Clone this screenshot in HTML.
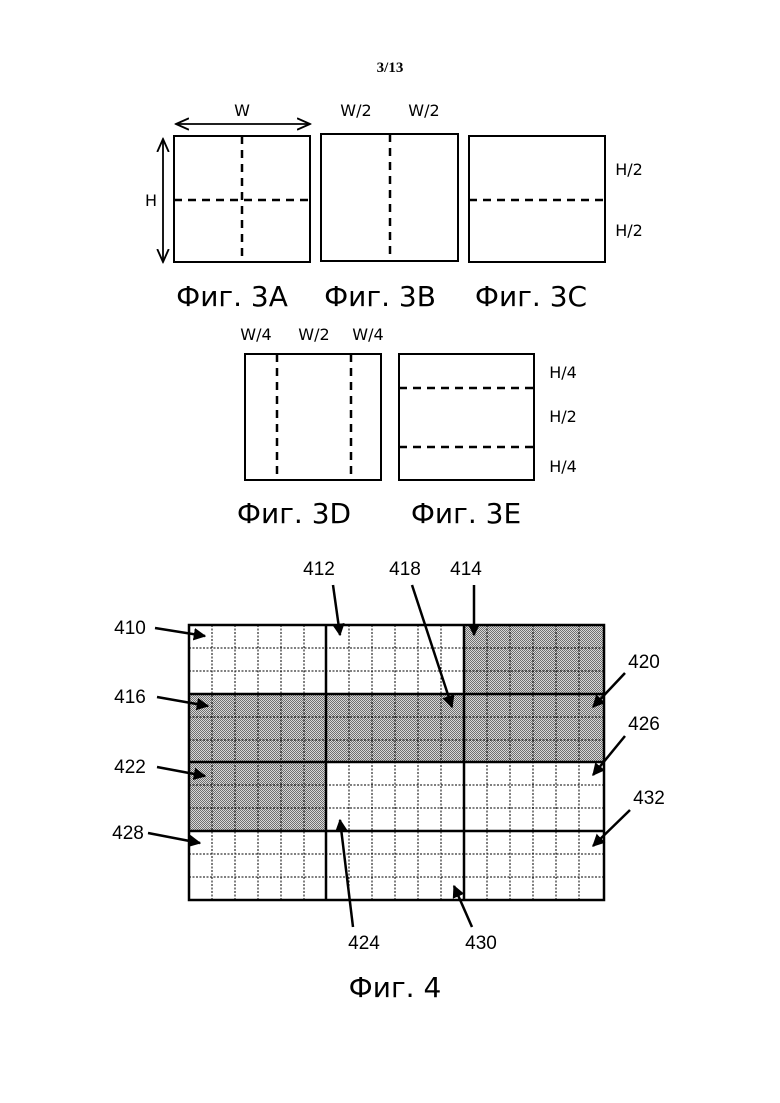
<!DOCTYPE html>
<html><head><meta charset="utf-8"><style>
body{margin:0;background:#fff;}
svg{display:block;font-family:"Liberation Sans","DejaVu Sans",sans-serif;}
</style></head><body>
<svg width="780" height="1103" viewBox="0 0 780 1103" xmlns="http://www.w3.org/2000/svg">
<defs>
<pattern id="chk" width="2" height="2" patternUnits="userSpaceOnUse">
<rect width="2" height="2" fill="#d8d8d8"/><rect width="1" height="1" fill="#707070"/><rect x="1" y="1" width="1" height="1" fill="#707070"/>
</pattern>
<marker id="ah" viewBox="0 0 10 10" refX="9" refY="5" markerWidth="5" markerHeight="5" orient="auto"><path d="M0,0 L10,5 L0,10 z" fill="#000"/></marker>
<marker id="oa" viewBox="0 0 10 10" refX="9" refY="5" markerWidth="8" markerHeight="8" orient="auto-start-reverse"><path d="M0,1 L9,5 L0,9" fill="none" stroke="#000" stroke-width="1.3"/></marker>
</defs>
<text x="390" y="72" font-family="Liberation Serif,serif" font-weight="bold" font-size="15" text-anchor="middle">3/13</text>

<g fill="none" stroke="#000" stroke-width="2">
<rect x="174" y="136" width="136" height="126"/>
<rect x="321" y="134" width="137" height="127"/>
<rect x="469" y="136" width="136" height="126"/>
<rect x="245" y="354" width="136" height="126"/>
<rect x="399" y="354" width="135" height="126"/>
</g>
<g fill="none" stroke="#000" stroke-width="2.5" stroke-dasharray="8,6">
<line x1="242" y1="136" x2="242" y2="262"/>
<line x1="174" y1="200" x2="310" y2="200"/>
<line x1="390" y1="134" x2="390" y2="255"/>
<line x1="469" y1="200" x2="605" y2="200"/>
<line x1="277" y1="354" x2="277" y2="476"/>
<line x1="351" y1="354" x2="351" y2="476"/>
<line x1="399" y1="388" x2="534" y2="388"/>
<line x1="399" y1="447" x2="534" y2="447"/>
</g>
<line x1="176" y1="124" x2="310" y2="124" stroke="#000" stroke-width="1.8" marker-start="url(#oa)" marker-end="url(#oa)"/>
<line x1="163" y1="139" x2="163" y2="262" stroke="#000" stroke-width="1.8" marker-start="url(#oa)" marker-end="url(#oa)"/>
<g font-size="16" font-family="DejaVu Sans,sans-serif">
<text x="242" y="116" text-anchor="middle">W</text>
<text x="151" y="206" text-anchor="middle">H</text>
<text x="356" y="116" text-anchor="middle">W/2</text>
<text x="424" y="116" text-anchor="middle">W/2</text>
<text x="629" y="175" text-anchor="middle">H/2</text>
<text x="629" y="236" text-anchor="middle">H/2</text>
<text x="256" y="340" text-anchor="middle">W/4</text>
<text x="314" y="340" text-anchor="middle">W/2</text>
<text x="368" y="340" text-anchor="middle">W/4</text>
<text x="563" y="378" text-anchor="middle">H/4</text>
<text x="563" y="422" text-anchor="middle">H/2</text>
<text x="563" y="472" text-anchor="middle">H/4</text>
</g>
<g font-size="28" font-family="DejaVu Sans,sans-serif">
<text x="232" y="306" text-anchor="middle">Фиг. 3A</text>
<text x="380" y="306" text-anchor="middle">Фиг. 3B</text>
<text x="531" y="306" text-anchor="middle">Фиг. 3C</text>
<text x="294" y="523" text-anchor="middle">Фиг. 3D</text>
<text x="466" y="523" text-anchor="middle">Фиг. 3E</text>
<text x="395" y="997" text-anchor="middle">Фиг. 4</text>
</g>

<!-- grid -->
<rect x="464" y="625" width="140" height="69" fill="url(#chk)"/>
<rect x="189" y="694" width="415" height="68" fill="url(#chk)"/>
<rect x="189" y="762" width="137" height="69" fill="url(#chk)"/>
<g stroke="#000" stroke-width="1" stroke-dasharray="2,1.5">
<line x1="212" y1="625" x2="212" y2="900"/><line x1="235" y1="625" x2="235" y2="900"/><line x1="258" y1="625" x2="258" y2="900"/><line x1="281" y1="625" x2="281" y2="900"/><line x1="304" y1="625" x2="304" y2="900"/>
<line x1="349" y1="625" x2="349" y2="900"/><line x1="372" y1="625" x2="372" y2="900"/><line x1="395" y1="625" x2="395" y2="900"/><line x1="418" y1="625" x2="418" y2="900"/><line x1="441" y1="625" x2="441" y2="900"/>
<line x1="487" y1="625" x2="487" y2="900"/><line x1="510" y1="625" x2="510" y2="900"/><line x1="533" y1="625" x2="533" y2="900"/><line x1="556" y1="625" x2="556" y2="900"/><line x1="579" y1="625" x2="579" y2="900"/>
<line x1="189" y1="648" x2="604" y2="648"/><line x1="189" y1="671" x2="604" y2="671"/>
<line x1="189" y1="717" x2="604" y2="717"/><line x1="189" y1="740" x2="604" y2="740"/>
<line x1="189" y1="785" x2="604" y2="785"/><line x1="189" y1="808" x2="604" y2="808"/>
<line x1="189" y1="854" x2="604" y2="854"/><line x1="189" y1="877" x2="604" y2="877"/>
</g>
<g stroke="#000" stroke-width="2.5" fill="none">
<rect x="189" y="625" width="415" height="275"/>
<line x1="326" y1="625" x2="326" y2="900"/><line x1="464" y1="625" x2="464" y2="900"/>
<line x1="189" y1="694" x2="604" y2="694"/><line x1="189" y1="762" x2="604" y2="762"/><line x1="189" y1="831" x2="604" y2="831"/>
</g>
<!-- labels and arrows -->
<g font-size="19" font-family="Liberation Sans,Arial,sans-serif">
<text x="130" y="634" text-anchor="middle">410</text>
<text x="319" y="575" text-anchor="middle">412</text>
<text x="405" y="575" text-anchor="middle">418</text>
<text x="466" y="575" text-anchor="middle">414</text>
<text x="644" y="668" text-anchor="middle">420</text>
<text x="130" y="703" text-anchor="middle">416</text>
<text x="644" y="730" text-anchor="middle">426</text>
<text x="130" y="773" text-anchor="middle">422</text>
<text x="649" y="804" text-anchor="middle">432</text>
<text x="128" y="839" text-anchor="middle">428</text>
<text x="364" y="949" text-anchor="middle">424</text>
<text x="481" y="949" text-anchor="middle">430</text>
</g>
<g stroke="#000" stroke-width="2.5" marker-end="url(#ah)">
<line x1="155" y1="628" x2="205" y2="636"/>
<line x1="333" y1="585" x2="340" y2="635"/>
<line x1="412" y1="585" x2="452" y2="707"/>
<line x1="474" y1="585" x2="474" y2="635"/>
<line x1="625" y1="673" x2="593" y2="707"/>
<line x1="157" y1="697" x2="208" y2="706"/>
<line x1="625" y1="736" x2="593" y2="775"/>
<line x1="157" y1="767" x2="205" y2="776"/>
<line x1="630" y1="810" x2="593" y2="846"/>
<line x1="148" y1="833" x2="200" y2="843"/>
<line x1="353" y1="927" x2="340" y2="820"/>
<line x1="472" y1="927" x2="454" y2="886"/>
</g>
</svg>
</body></html>
